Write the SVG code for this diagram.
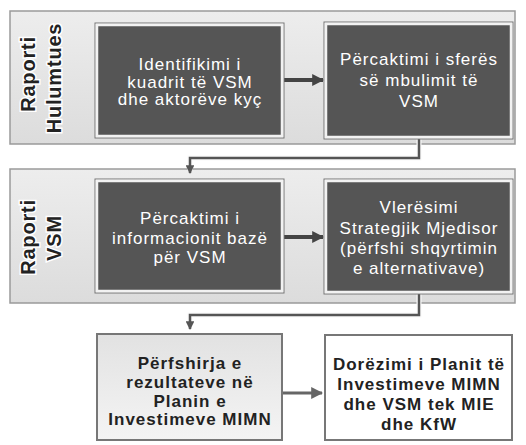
<svg xmlns="http://www.w3.org/2000/svg" width="526" height="445" viewBox="0 0 526 445">
<defs>
<linearGradient id="bandG" x1="0" y1="0" x2="0" y2="1">
<stop offset="0" stop-color="#ededed"/>
<stop offset="1" stop-color="#dcdcdc"/>
</linearGradient>
<linearGradient id="lightG" x1="0" y1="0" x2="0" y2="1">
<stop offset="0" stop-color="#e2e2e2"/>
<stop offset="1" stop-color="#f4f4f4"/>
</linearGradient>
<marker id="ah" viewBox="0 0 10 10" refX="9" refY="5" markerWidth="3" markerHeight="3" orient="auto" markerUnits="strokeWidth">
<path d="M0,0 L10,5 L0,10 z" fill="#444"/>
</marker>
<marker id="ah2" viewBox="0 0 10 10" refX="9" refY="5" markerWidth="4" markerHeight="4" orient="auto" markerUnits="strokeWidth">
<path d="M0,0 L10,5 L0,10 z" fill="#666"/>
</marker>
<marker id="ah3" viewBox="0 0 10 10" refX="9" refY="5" markerWidth="3.5" markerHeight="3.5" orient="auto" markerUnits="strokeWidth">
<path d="M0,0 L10,5 L0,10 z" fill="#555"/>
</marker>
</defs>
<style>
.band{fill:url(#bandG);stroke:#9a9a9a;stroke-width:1.5}
.dark{fill:#555;stroke:#f2f2f2;stroke-width:2.5}
.darkout{fill:none;stroke:#777;stroke-width:1}
.light{fill:url(#lightG);stroke:#777;stroke-width:2}
.white{fill:#fff;stroke:#777;stroke-width:2}
.wt{font-family:"Liberation Sans",Arial,sans-serif;font-size:17px;fill:#fff;text-anchor:middle;letter-spacing:1px}
.bt{font-family:"Liberation Sans",Arial,sans-serif;font-size:17px;font-weight:bold;fill:#222;text-anchor:middle;letter-spacing:1px}
.lab{font-family:"Liberation Sans",Arial,sans-serif;font-size:20px;font-weight:bold;fill:#222;text-anchor:middle;letter-spacing:0.8px;stroke:#fff;stroke-width:3;paint-order:stroke}
.conn{fill:none;stroke:#555;stroke-width:2.5}
.halo{fill:none;stroke:#fafafa;stroke-width:5}
</style>
<rect width="526" height="445" fill="#fff"/>
<g id="band1">
<rect class="band" x="10" y="11" width="505" height="133"/>
<text class="lab" transform="translate(35,74) rotate(-90)">Raporti</text>
<text class="lab" transform="translate(61,78) rotate(-90)">Hulumtues</text>
</g>
<g id="band2">
<rect class="band" x="10" y="169" width="505" height="134"/>
<text class="lab" transform="translate(35,237) rotate(-90)">Raporti</text>
<text class="lab" transform="translate(61,238) rotate(-90)">VSM</text>
</g>
<g id="connectors">
<path class="halo" d="M419,139 V158 H190 V170"/>
<path class="conn" d="M419,139 V158 H190 V173" marker-end="url(#ah3)"/>
<path class="halo" d="M419,294 V315 H190 V326"/>
<path class="conn" d="M419,294 V315 H190 V329" marker-end="url(#ah3)"/>
<line x1="284" y1="80" x2="323" y2="80" stroke="#444" stroke-width="4" marker-end="url(#ah)"/>
<line x1="284" y1="237" x2="323" y2="237" stroke="#444" stroke-width="4" marker-end="url(#ah)"/>
<line x1="283" y1="393" x2="322" y2="393" stroke="#666" stroke-width="3" marker-end="url(#ah2)"/>
</g>
<g id="n1">
<rect class="darkout" x="95" y="23" width="189" height="115"/>
<rect class="dark" x="97" y="25" width="185" height="111"/>
<text class="wt" x="190" y="70">Identifikimi i</text>
<text class="wt" x="190" y="87.5">kuadrit të VSM</text>
<text class="wt" x="190" y="105">dhe aktorëve kyç</text>
</g>
<g id="n2">
<rect class="darkout" x="324" y="22" width="189" height="117"/>
<rect class="dark" x="326" y="24" width="185" height="113"/>
<text class="wt" x="419" y="65">Përcaktimi i sferës</text>
<text class="wt" x="419" y="86">së mbulimit të</text>
<text class="wt" x="419" y="107">VSM</text>
</g>
<g id="n3">
<rect class="darkout" x="95" y="179" width="189" height="114"/>
<rect class="dark" x="97" y="181" width="185" height="110"/>
<text class="wt" x="190" y="224">Përcaktimi i</text>
<text class="wt" x="190" y="244">informacionit bazë</text>
<text class="wt" x="190" y="263">për VSM</text>
</g>
<g id="n4">
<rect class="darkout" x="324" y="179" width="189" height="115"/>
<rect class="dark" x="326" y="181" width="185" height="111"/>
<text class="wt" x="419" y="213">Vlerësimi</text>
<text class="wt" x="419" y="233.5">Strategjik Mjedisor</text>
<text class="wt" x="419" y="254">(përfshi shqyrtimin</text>
<text class="wt" x="419" y="273.5">e alternativave)</text>
</g>
<g id="n5">
<rect class="light" x="97" y="334" width="185" height="106"/>
<text class="bt" x="190" y="369">Përfshirja e</text>
<text class="bt" x="190" y="388">rezultateve në</text>
<text class="bt" x="190" y="407">Planin e</text>
<text class="bt" x="190" y="425">Investimeve MIMN</text>
</g>
<g id="n6">
<rect class="white" x="325" y="335" width="187" height="105"/>
<text class="bt" x="419" y="370">Dorëzimi i Planit të</text>
<text class="bt" x="419" y="390">Investimeve MIMN</text>
<text class="bt" x="419" y="410">dhe VSM tek MIE</text>
<text class="bt" x="419" y="430">dhe KfW</text>
</g>
</svg>
